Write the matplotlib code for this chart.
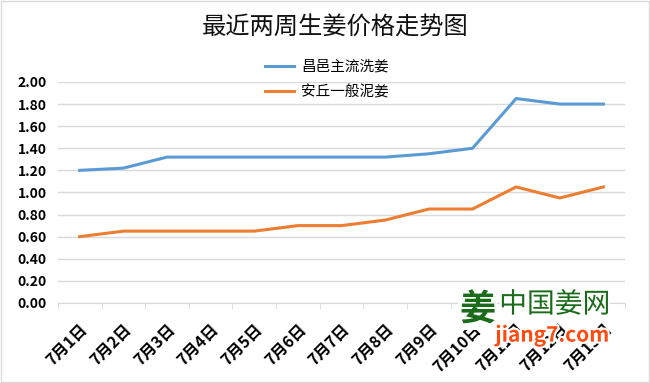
import numpy as np
import matplotlib.pyplot as plt
import matplotlib.patheffects as pe

plt.rcParams['font.family'] = ['Noto Sans CJK SC', 'DejaVu Sans']

dates = ['7月1日', '7月2日', '7月3日', '7月4日', '7月5日', '7月6日', '7月7日',
         '7月8日', '7月9日', '7月10日', '7月11日', '7月12日', '7月13日']
changyi = [1.20, 1.22, 1.32, 1.32, 1.32, 1.32, 1.32, 1.32, 1.35, 1.40, 1.85, 1.80, 1.80]
anqiu = [0.60, 0.65, 0.65, 0.65, 0.65, 0.70, 0.70, 0.75, 0.85, 0.85, 1.05, 0.95, 1.05]
yticks = [0.0, 0.2, 0.4, 0.6, 0.8, 1.0, 1.2, 1.4, 1.6, 1.8, 2.0]

fig = plt.figure(figsize=(6.5, 3.83), dpi=100)
ax = fig.add_axes([0.089, 0.209, 0.873, 0.577])

x = np.arange(len(dates))
ax.plot(x, changyi, color='#5b9bd5', lw=2.2, label='昌邑主流洗姜')
ax.plot(x, anqiu, color='#ed7d31', lw=2.2, label='安丘一般泥姜')

ax.set_xlim(-0.5, len(dates) - 0.5)
ax.set_ylim(0, 2.0)
ax.set_yticks(yticks)
ax.set_yticklabels(['%.2f' % v for v in yticks], fontsize=10, fontweight='bold')
ax.set_xticks(x)
ax.set_xticklabels(dates, rotation=45, ha='right', rotation_mode='anchor',
                   fontsize=11.5, fontweight='bold')
ax.tick_params(axis='x', which='major', length=0, pad=13)
ax.set_xticks(np.arange(-0.5, len(dates), 1), minor=True)
ax.tick_params(axis='x', which='minor', length=4, color='#d9d9d9')
ax.tick_params(axis='y', length=0, pad=8)

ax.grid(axis='y', color='#d9d9d9', lw=1)
ax.set_axisbelow(True)
for s in ['top', 'right', 'left']:
    ax.spines[s].set_visible(False)
ax.spines['bottom'].set_color('#d9d9d9')

h, l = ax.get_legend_handles_labels()
fig.legend(h, l, loc='upper left', bbox_to_anchor=(265 / 650, 1 - 60 / 383), frameon=False,
           fontsize=10.5, handlelength=2.0, handletextpad=0.5, labelspacing=0.75,
           borderpad=0, borderaxespad=0)

fig.text(0.515, 0.927, '最近两周生姜价格走势图', ha='center', va='center', fontsize=17.5,
         color='#111111')

# watermark (logo sits on white, hiding part of the labels)
halo = [pe.withStroke(linewidth=3, foreground='white')]
fig.text(0.735, 0.19, '姜', color='#1a6b1a', fontsize=26, fontweight='bold',
         ha='center', va='center',
         bbox=dict(facecolor='white', edgecolor='none', pad=1))
fig.text(0.768, 0.205, '中国姜网', color='#1a6b1a', fontsize=20,
         ha='left', va='center', path_effects=halo)
fig.text(0.762, 0.125, 'jiang7.com', color='#ff4a10', fontsize=15, fontweight='bold',
         style='italic', ha='left', va='center', path_effects=halo)

fig.patches.append(plt.Rectangle((0.002, 0.002), 0.996, 0.996, transform=fig.transFigure,
                                 fill=False, edgecolor='#d9d9d9', lw=1))

fig.savefig('out.png', dpi=100)
